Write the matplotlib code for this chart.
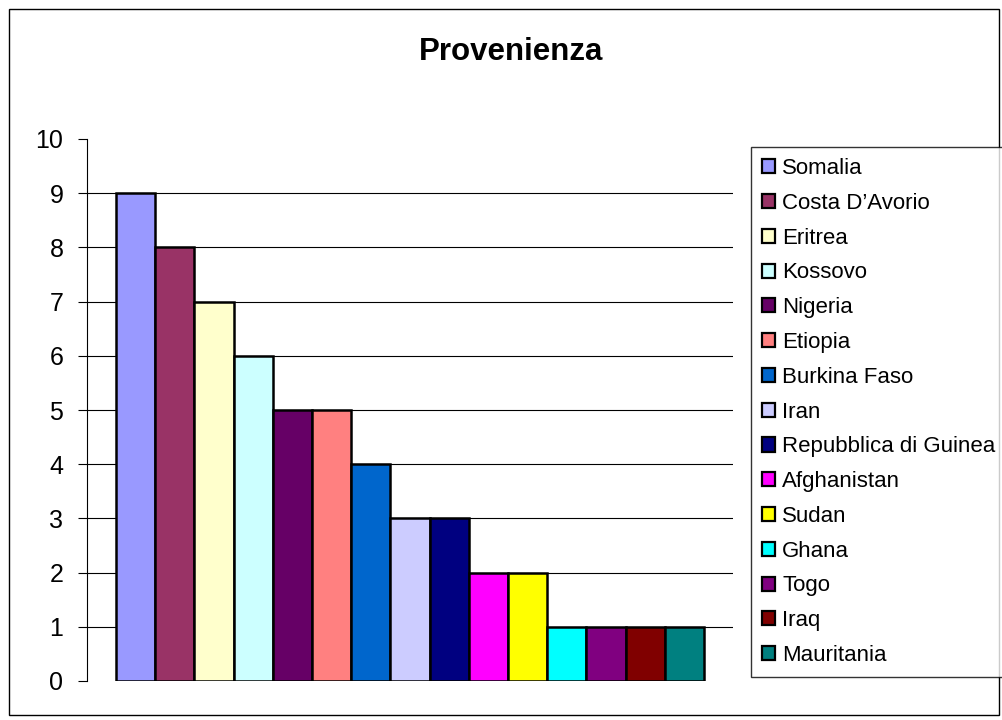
import matplotlib
matplotlib.use("Agg")
import matplotlib.pyplot as plt
from matplotlib.patches import Rectangle
import numpy as np

plt.rcParams['font.family'] = ['Liberation Sans', 'DejaVu Sans']

# Country of origin counts
countries = ["Somalia", "Costa D\u2019Avorio", "Eritrea", "Kossovo", "Nigeria",
             "Etiopia", "Burkina Faso", "Iran", "Repubblica di Guinea",
             "Afghanistan", "Sudan", "Ghana", "Togo", "Iraq", "Mauritania"]
counts = [9, 8, 7, 6, 5, 5, 4, 3, 3, 2, 2, 1, 1, 1, 1]
colors = ["#9999FF", "#993366", "#FFFFCC", "#CCFFFF", "#660066",
          "#FF8080", "#0066CC", "#CCCCFF", "#000080", "#FF00FF",
          "#FFFF00", "#00FFFF", "#800080", "#800000", "#008080"]

W, H = 1002, 720
fig = plt.figure(figsize=(W / 100, H / 100), dpi=100)

# outer chart frame
fig.patches.append(Rectangle((9 / W, 5 / H), 990 / W, 706 / H,
                             transform=fig.transFigure, fill=False,
                             edgecolor="black", linewidth=1.0))

ax = fig.add_axes([87 / W, (H - 681) / H, (733 - 87) / W, (681 - 139) / H])

x = np.arange(len(counts))
for i, (c, v, col) in enumerate(zip(countries, counts, colors)):
    ax.bar(x[i], v, width=1.0, color=col, edgecolor="black",
           linewidth=1.8, label=c, zorder=3)

ax.set_xlim(-0.5 - 0.74, len(counts) - 0.5 + 0.74)
ax.set_ylim(0, 10)
ax.set_yticks(range(0, 11))
ax.set_xticks([])
for yv in range(1, 10):
    ax.axhline(yv, color="black", linewidth=0.8, zorder=1)

for s in ("top", "right", "bottom"):
    ax.spines[s].set_visible(False)
ax.spines["left"].set_linewidth(0.8)
ax.tick_params(axis="y", direction="out", length=6.5, width=0.8,
               labelsize=18, pad=10.5)

fig.text(511 / W, 1 - 52 / H, "Provenienza", ha="center", va="center",
         fontsize=22.5, fontweight="bold")

leg = fig.legend(loc="upper left", bbox_to_anchor=(751 / W, 1 - 147 / H),
                 fontsize=16, frameon=True, fancybox=False,
                 edgecolor="black", handlelength=0.6, handleheight=0.6,
                 handletextpad=0.3, labelspacing=0.62, borderpad=0.5,
                 borderaxespad=0)
leg.get_frame().set_linewidth(1.0)
for h in leg.legend_handles:
    h.set_linewidth(1.6)

fig.savefig("out.png", dpi=100)
